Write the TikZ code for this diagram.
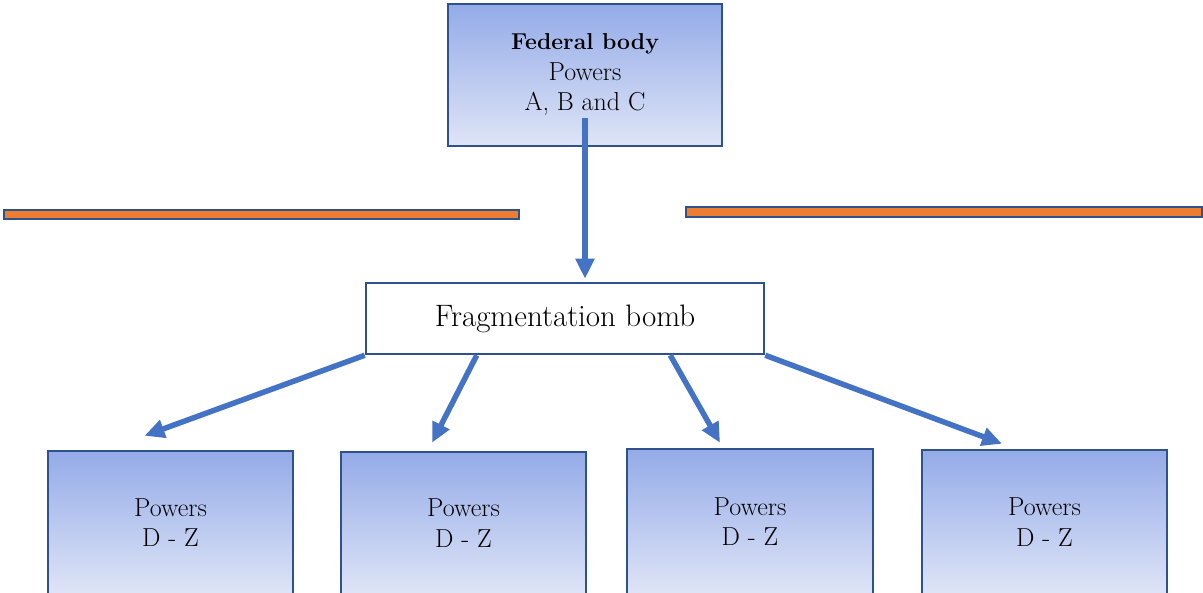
\documentclass[tikz,border=0pt]{standalone}
\usepackage{fontspec}
\usetikzlibrary{arrows.meta}
\definecolor{boxline}{HTML}{2F528F}
\definecolor{arrowblue}{HTML}{4472C4}
\definecolor{bandorange}{HTML}{ED7D31}
\definecolor{shadetop}{RGB}{148,171,232}
\definecolor{shadebot}{RGB}{223,229,247}
\tikzset{
  gradbox/.style={draw=boxline, line width=2.5pt, top color=shadetop, bottom color=shadebot,
    inner sep=0pt, align=center, font=\fontsize{26}{30.5}\selectfont},
  plainbox/.style={draw=boxline, line width=2.5pt, fill=white, inner sep=0pt,
    font=\fontsize{31}{34}\selectfont},
  band/.style={draw=boxline, line width=2.6pt, fill=bandorange, inner sep=0pt},
  flow/.style={draw=arrowblue, line width=5.5pt, -{Triangle[length=20pt,width=18pt]}}
}
\begin{document}
\begin{tikzpicture}[x=1pt,y=-1pt]
\useasboundingbox (0,0) rectangle (1203,593);
\clip (0,0) rectangle (1203,593);

% federal level
\node[gradbox, minimum width=274pt, minimum height=142pt] (fed) at (585,75)
  {{\fontsize{23}{30.5}\selectfont\bfseries Federal body}\\Powers\\A, B and C};

% separating bands
\node[band, minimum width=515pt, minimum height=9pt] (bandL) at (261.5,214.5) {};
\node[band, minimum width=516pt, minimum height=10pt] (bandR) at (944,212) {};

% the split
\node[plainbox, minimum width=398pt, minimum height=71pt] (bomb) at (565,318.5)
  {Fragmentation bomb};

% resulting units
\node[gradbox, minimum width=245pt, minimum height=143pt] (b1) at (170.5,522.5) {Powers\\D - Z};
\node[gradbox, minimum width=245pt, minimum height=142pt] (b2) at (463.5,523) {Powers\\D - Z};
\node[gradbox, minimum width=246pt, minimum height=145pt] (b3) at (750,521.5) {Powers\\D - Z};
\node[gradbox, minimum width=245pt, minimum height=144pt] (b4) at (1044.5,522) {Powers\\D - Z};

% connectors
\draw[flow] ([yshift=29pt]fed.south) -- ([shift={(20pt,3pt)}]bomb.north);
\draw[flow] (bomb.south west) -- ([shift={(-26pt,14pt)}]b1.north);
\draw[flow] ([xshift=112pt]bomb.south west) -- ([shift={(-31.5pt,8pt)}]b2.north);
\draw[flow] ([xshift=-95pt]bomb.south east) -- ([shift={(-30pt,5pt)}]b3.north);
\draw[flow] (bomb.south east) -- ([shift={(-42.5pt,5pt)}]b4.north);
\end{tikzpicture}
\end{document}
